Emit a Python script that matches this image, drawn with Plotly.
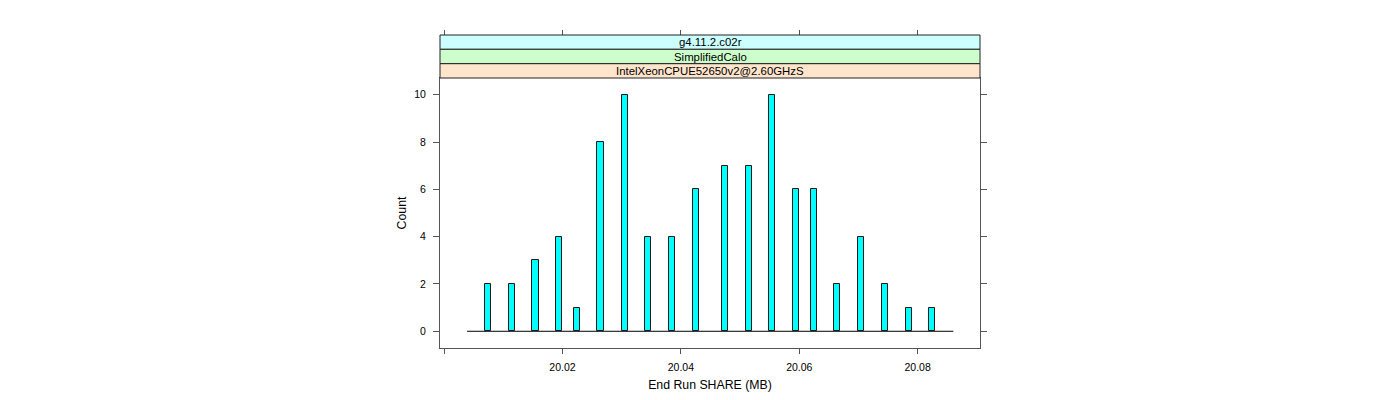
import plotly.graph_objects as go

# ---- data ----
bin_centers = [20.00743, 20.01148, 20.01544, 20.01946, 20.02247, 20.02642, 20.03048,
               20.03447, 20.03847, 20.04248, 20.04748, 20.05144, 20.05543, 20.05948,
               20.06247, 20.06641, 20.07047, 20.07447, 20.07848, 20.08247]
counts = [2, 2, 3, 4, 1, 8, 10, 4, 4, 6, 7, 7, 10, 6, 6, 2, 4, 2, 1, 1]
bin_width = 0.00102
hist_range = [20.00388, 20.08602]          # extent of histogram breaks (empty bins drawn as baseline)
x_tickvals = [20.00, 20.02, 20.04, 20.06, 20.08]
x_ticktext = ["", "20.02", "20.04", "20.06", "20.08"]
y_tickvals = [0, 2, 4, 6, 8, 10]
x_range = [19.99931, 20.09053]
y_range = [-0.707, 10.707]
strip_labels = ["g4.11.2.c02r", "SimplifiedCalo", "IntelXeonCPUE52650v2@2.60GHzS"]
strip_colors = ["#CCFFFF", "#CCFFCC", "#FFE5CC"]
x_title = "End Run SHARE (MB)"
y_title = "Count"

FONT = "Liberation Sans, Arial, Helvetica, sans-serif"
AXIS_COL = "#555555"

fig = go.Figure()

# baseline (empty bins)
fig.add_trace(go.Scatter(x=hist_range, y=[0, 0], mode="lines",
                         line=dict(color="black", width=1), hoverinfo="skip", showlegend=False))
# bars
fig.add_trace(go.Bar(x=bin_centers, y=counts, width=bin_width,
                     marker=dict(color="#00FFFF", line=dict(color="#1a1a1a", width=1)),
                     showlegend=False))
# dummy trace for top axis
fig.add_trace(go.Scatter(x=hist_range, y=[0, 0], xaxis="x2", mode="lines",
                         line=dict(width=0), hoverinfo="skip", showlegend=False))

panel_top = 0.8626
strip_edges = [1.0, 0.9543, 0.9083, panel_top]

for i, (lab, col) in enumerate(zip(strip_labels, strip_colors)):
    y1 = strip_edges[i]
    y0 = strip_edges[i + 1]
    fig.add_shape(type="rect", xref="paper", yref="paper", x0=0, x1=1, y0=y0, y1=y1,
                  fillcolor=col, line=dict(color="#222222", width=1), layer="above")
    fig.add_annotation(xref="paper", yref="paper", x=0.5, y=(y0 + y1) / 2, text=lab,
                       showarrow=False, font=dict(family=FONT, size=11.4, color="black"),
                       xanchor="center", yanchor="middle")

# page body has an 8px margin, so the margins are offset by 8px
fig.update_layout(
    width=1400, height=400,
    margin=dict(l=432, r=428, t=27, b=60, pad=0),
    paper_bgcolor="white", plot_bgcolor="white",
    bargap=0,
    font=dict(family=FONT, size=10, color="black"),
    xaxis=dict(range=x_range, domain=[0, 1], tickvals=x_tickvals, ticktext=x_ticktext,
               ticks="outside", ticklen=5, tickcolor=AXIS_COL, tickwidth=1,
               showline=True, linecolor=AXIS_COL, linewidth=1, mirror=True,
               showgrid=False, zeroline=False, tickfont=dict(size=10.5),
               ticklabelstandoff=4,
               title=dict(text=x_title, font=dict(size=12.3), standoff=8)),
    xaxis2=dict(range=x_range, overlaying="x", side="top", anchor="free", position=1,
                tickvals=x_tickvals, showticklabels=False, ticks="outside", ticklen=5,
                tickcolor=AXIS_COL, showline=False, showgrid=False, zeroline=False),
    yaxis=dict(range=y_range, domain=[0, panel_top], tickvals=y_tickvals,
               ticks="outside", ticklen=6, tickcolor=AXIS_COL, tickwidth=1,
               showline=True, linecolor=AXIS_COL, linewidth=1, mirror="ticks",
               showgrid=False, zeroline=False, tickfont=dict(size=10.5),
               ticklabelstandoff=5,
               title=dict(text=y_title, font=dict(size=12.3), standoff=4)),
)

fig.write_html("out.html")
